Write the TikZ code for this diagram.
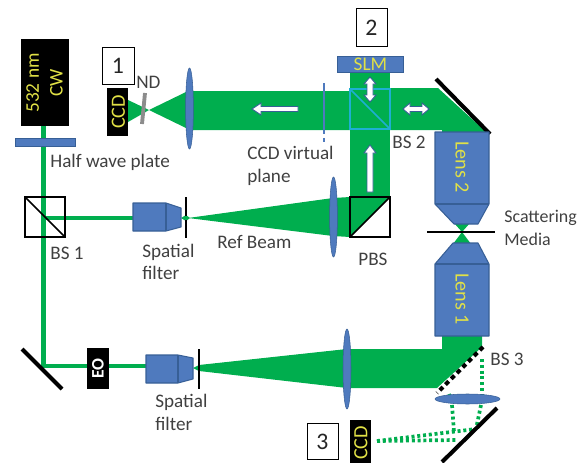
\documentclass[tikz,border=0pt]{standalone}
\usepackage{fontspec}
\setmainfont{Carlito}
\definecolor{beam}{RGB}{0,174,78}
\definecolor{optic}{RGB}{79,122,190}
\definecolor{opticline}{RGB}{55,95,150}
\definecolor{lbl}{RGB}{64,64,64}
\definecolor{yel}{RGB}{225,225,70}
\definecolor{cyanbs}{RGB}{30,175,210}
\tikzset{
 x=0.02cm,y=-0.02cm,
 lbl/.style={text=lbl,font=\fontsize{10.9}{13}\selectfont,align=left,inner sep=0pt,anchor=west},
 blk/.style={inner sep=0pt,text=yel,font=\fontsize{11.5}{13}\selectfont,align=center},
 numbox/.style={draw=black,fill=white,line width=.5pt,inner sep=0pt,font=\fontsize{13.5}{14}\selectfont,text=black!85},
 thinbeam/.style={draw=beam,line width=2.3pt},
 lens/.style={fill=optic,draw=opticline,line width=.3pt},
 opticbody/.style={fill=optic,draw=opticline,line width=.6pt,line join=round},
 cube/.style={draw=black,line width=1pt},
 mirror/.style={draw=black,line width=2.3pt},
 stop/.style={draw=black,line width=1.7pt},
 dotbeam/.style={draw=beam,line width=2.1pt,dash pattern=on 1.7pt off 1.6pt},
 wharrow/.style={draw=opticline,fill=white,line width=.5pt,line join=miter},
}
\begin{document}
\begin{tikzpicture}
\useasboundingbox (0,0) rectangle (579,463);
% thin beams
\draw[thinbeam] (43.5,126) -- (43.5,366) -- (147,366);
\draw[thinbeam] (43.5,218) -- (134,218);
% beams
\fill[beam] (128,100) -- (149,110) -- (186,92) -- (186,128) -- (149,110) -- (128,122) -- cycle;
\fill[beam] (186,91) -- (350,91) -- (350,88) -- (438,88) -- (484,130) -- (186,130) -- cycle;
\fill[beam] (442,130) rectangle (486,133);
\fill[beam] (350,70) rectangle (390,197);
\fill[beam] (181,218) -- (186,215) -- (190,218) -- (186,221) -- cycle;
\fill[beam] (188,218) -- (333,198) -- (350,197) -- (350,237) -- (333,236) -- cycle;
\fill[beam] (350,197) -- (390,197) -- (350,237) -- cycle;
\fill[beam] (193,368) -- (199,365) -- (347,349) -- (442,349) -- (442,336) -- (482,336) -- (482,347) -- (437,388) -- (347,388) -- (199,371) -- cycle;
\fill[beam] (454,223) -- (470,223) -- (462,232) -- (471,244) -- (453,244) -- (462,232) -- cycle;
% dotted return beam
\draw[dotbeam] (482,359) -- (482,395);
\draw[dotbeam] (449,394) -- (450,397);
\draw[dotbeam] (452,405) -- (454,432);
\draw[dotbeam] (481,405) -- (476,429);
\draw[dotbeam] (377,441) -- (456,440);
\draw[dotbeam] (377,441) -- (476,429);
% CCD virtual plane
\draw[draw=optic,line width=1.3pt] (324,83) -- (324,129);
\draw[draw=optic,line width=1.3pt,dash pattern=on 3pt off 2pt] (324,129) -- (324,142);
% laser and half-wave plate
\node[blk,fill=black,minimum width=48*0.567pt,minimum height=87*0.567pt] (laser) at (45,82.5) {};
\node[blk,rotate=90,font=\fontsize{11}{12.5}\selectfont] (lasertext) at (44.5,83) {532 nm\\[1pt]CW};
\node[fill=optic,draw=opticline,line width=.3pt,minimum width=60*0.567pt,minimum height=8*0.567pt,inner sep=0pt] (hwp) at (45,142) {};
\node[lbl] (hwplabel) at (50,162) {Half wave plate};
% CCD 1
\node[numbox,minimum width=32*0.567pt,minimum height=38*0.567pt] (box1) at (118,66) {1};
\node[blk,fill=black,minimum width=21*0.567pt,minimum height=48*0.567pt] (ccda) at (117.5,112) {};
\node[blk,rotate=90] (ccdatext) at (118.5,112) {CCD};
\node[lbl] (nd) at (136,82) {ND};
\draw[draw=black!45,line width=2.2pt] (145,93) -- (142,124);
% lenses
\fill[lens] (189.5,108.5) ellipse [x radius=3.9,y radius=40.5];
\fill[lens] (333.5,217) ellipse [x radius=3.9,y radius=40];
\fill[lens] (347,369) ellipse [x radius=4,y radius=40];
\fill[lens] (467.5,399) ellipse [x radius=32.5,y radius=5];
% SLM
\node[fill=optic,draw=opticline,line width=.5pt,minimum width=67*0.567pt,minimum height=16*0.567pt,text=yel,inner sep=0pt,font=\fontsize{11}{11}\selectfont] (slm) at (370.5,64) {SLM};
\node[numbox,minimum width=31*0.567pt,minimum height=39*0.567pt] (box2) at (371.5,27.5) {2};
% BS 2
\draw[draw=cyanbs,line width=.9pt] (350,89) rectangle (390,129) (350,89) -- (390,129);
\node[lbl] (bs2) at (392,142) {BS 2};
\node[lbl] (virt) at (247,166) {CCD virtual\\plane};
% mirror upper right
\draw[mirror] (436,79) -- (490,134);
% objectives
\draw[opticbody] (435,132) -- (489,132) -- (489,204) -- (478,224) -- (454,224) -- (435,204) -- cycle;
\draw[opticbody] (435,204) -- (489,204);
\draw[opticbody] (435,336) -- (489,336) -- (489,264) -- (478,243) -- (453,243) -- (435,264) -- cycle;
\draw[opticbody] (435,264) -- (489,264);
\node[blk,rotate=-90] (lens2) at (462,167) {Lens 2};
\node[blk,rotate=-90] (lens1) at (462,299) {Lens 1};
\draw[draw=black,line width=1.5pt] (427,232) -- (495,232);
\node[lbl,font=\fontsize{10.2}{13}\selectfont] (scat) at (504,227.5) {Scattering\\Media};
% PBS
\draw[cube] (350,197) rectangle (390,237) (350,237) -- (390,197);
\node[lbl] (pbs) at (358,259) {PBS};
% BS 1
\draw[cube] (25,197) rectangle (65,237) (25,197) -- (65,237);
\node[lbl] (bs1) at (50,253) {BS 1};
% upper spatial filter
\draw[opticbody] (133,203) -- (166,203) -- (181,208) -- (181,227) -- (166,231) -- (133,231) -- cycle;
\draw[opticbody] (166,203) -- (166,231);
\draw[stop] (186,197) -- (186,216) (186,220) -- (186,238);
\node[lbl] (sf1) at (142,262) {Spatial\\filter};
\node[lbl] (ref) at (217,242) {Ref Beam};
% lower part
\draw[mirror] (22,349) -- (62,389);
\node[fill=black,minimum width=22*0.567pt,minimum height=41*0.567pt,inner sep=0pt] (eo) at (98,368.5) {};
\node[rotate=90,text=white,inner sep=0pt,font=\bfseries\fontsize{10}{10}\selectfont] (eotext) at (98,368.5) {EO};
\draw[opticbody] (146,355) -- (178,355) -- (193,358) -- (193,379) -- (178,383) -- (146,383) -- cycle;
\draw[opticbody] (178,355) -- (178,383);
\draw[stop] (199,349) -- (199,389);
\node[lbl] (sf2) at (155,412.5) {Spatial\\filter};
% BS 3
\draw[draw=black,line width=2.3pt,dash pattern=on 2.6pt off 2pt] (483,347) -- (437,393);
\node[lbl] (bs3) at (490,359) {BS 3};
\draw[mirror] (497,408) -- (442,462);
% CCD 3
\node[numbox,minimum width=31*0.567pt,minimum height=37*0.567pt] (box3) at (322.5,441.5) {3};
\fill[black] (350,420) rectangle (371,463);
\node[blk,rotate=90] (ccdbtext) at (361,443) {CCD};
% white arrows
\draw[wharrow] (252,109) -- (261,103) -- (261,106.5) -- (298,106.5) -- (298,111.5) -- (261,111.5) -- (261,115) -- cycle;
\draw[wharrow] (370,145) -- (376,153) -- (373,153) -- (373,192) -- (367,192) -- (367,153) -- (364,153) -- cycle;
\draw[wharrow] (370,77) -- (376,84) -- (373,84) -- (373,95) -- (376,95) -- (370,102) -- (364,95) -- (367,95) -- (367,84) -- (364,84) -- cycle;
\draw[wharrow] (403,109) -- (410,103) -- (410,106.5) -- (422,106.5) -- (422,103) -- (429,109) -- (422,115) -- (422,111.5) -- (410,111.5) -- (410,115) -- cycle;
\end{tikzpicture}
\end{document}
